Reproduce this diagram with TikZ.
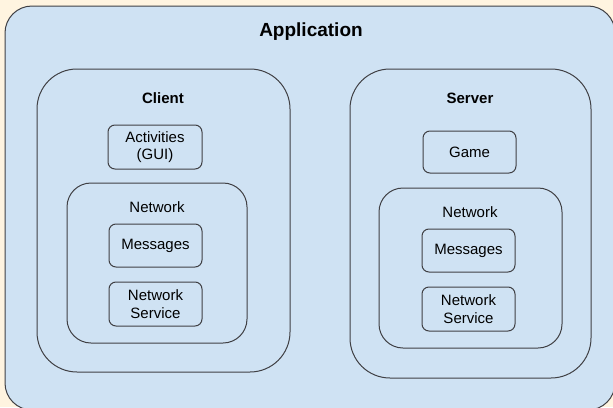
\documentclass[tikz,border=0pt]{standalone}
\usepackage{fontspec}
\setmainfont{Liberation Sans}
\definecolor{pagebg}{RGB}{255,244,224}
\definecolor{boxfill}{RGB}{207,226,243}
\definecolor{boxline}{RGB}{64,64,68}
\tikzset{
  container/.style={draw=boxline, line width=1pt, fill=boxfill, rectangle, inner sep=0pt},
  outerbox/.style={container, rounded corners=27pt},
  tierbox/.style={container, rounded corners=40pt},
  groupbox/.style={container, rounded corners=24pt},
  itembox/.style={container, rounded corners=7pt, align=center,
    font=\fontsize{15}{17.5}\selectfont},
  title/.style={font=\bfseries\fontsize{19}{22}\selectfont, inner sep=0pt},
  heading/.style={font=\bfseries\fontsize{15}{18}\selectfont, inner sep=0pt},
  caption/.style={font=\fontsize{15}{18}\selectfont, inner sep=0pt},
}
\begin{document}
\begin{tikzpicture}[x=1pt,y=-1pt]
  \useasboundingbox (0,0) rectangle (613,407);
  \fill[pagebg] (0,0) rectangle (613,407);

  % application frame (runs past the right and bottom edges)
  \node[outerbox, minimum width=610pt, minimum height=404pt] (app) at (310,208) {};
  \node[title] (applabel) at (311,32) {Application};

  % client side
  \node[tierbox, minimum width=253pt, minimum height=303pt] (client) at (163.5,220.5) {};
  \node[heading] (clientlabel) at (163,98) {Client};
  \node[itembox, minimum width=94pt, minimum height=44pt] (activities) at (155,147) {Activities\\(GUI)};
  \node[groupbox, minimum width=180pt, minimum height=160pt] (cnet) at (157,263) {};
  \node[caption] (cnetlabel) at (157,207) {Network};
  \node[itembox, minimum width=93pt, minimum height=43pt] (cmsg) at (155.5,245.5) {Messages};
  \node[itembox, minimum width=93pt, minimum height=44pt] (csvc) at (155.5,304) {Network\\Service};

  % server side
  \node[tierbox, minimum width=241pt, minimum height=309pt] (server) at (470.5,223.5) {};
  \node[heading] (serverlabel) at (470,98) {Server};
  \node[itembox, minimum width=93pt, minimum height=42pt] (game) at (469.5,152) {Game};
  \node[groupbox, minimum width=183pt, minimum height=160pt] (snet) at (470.5,268) {};
  \node[caption] (snetlabel) at (470,212) {Network};
  \node[itembox, minimum width=93pt, minimum height=43pt] (smsg) at (468.5,250.5) {Messages};
  \node[itembox, minimum width=93pt, minimum height=44pt] (ssvc) at (468.5,309) {Network\\Service};
\end{tikzpicture}
\end{document}
